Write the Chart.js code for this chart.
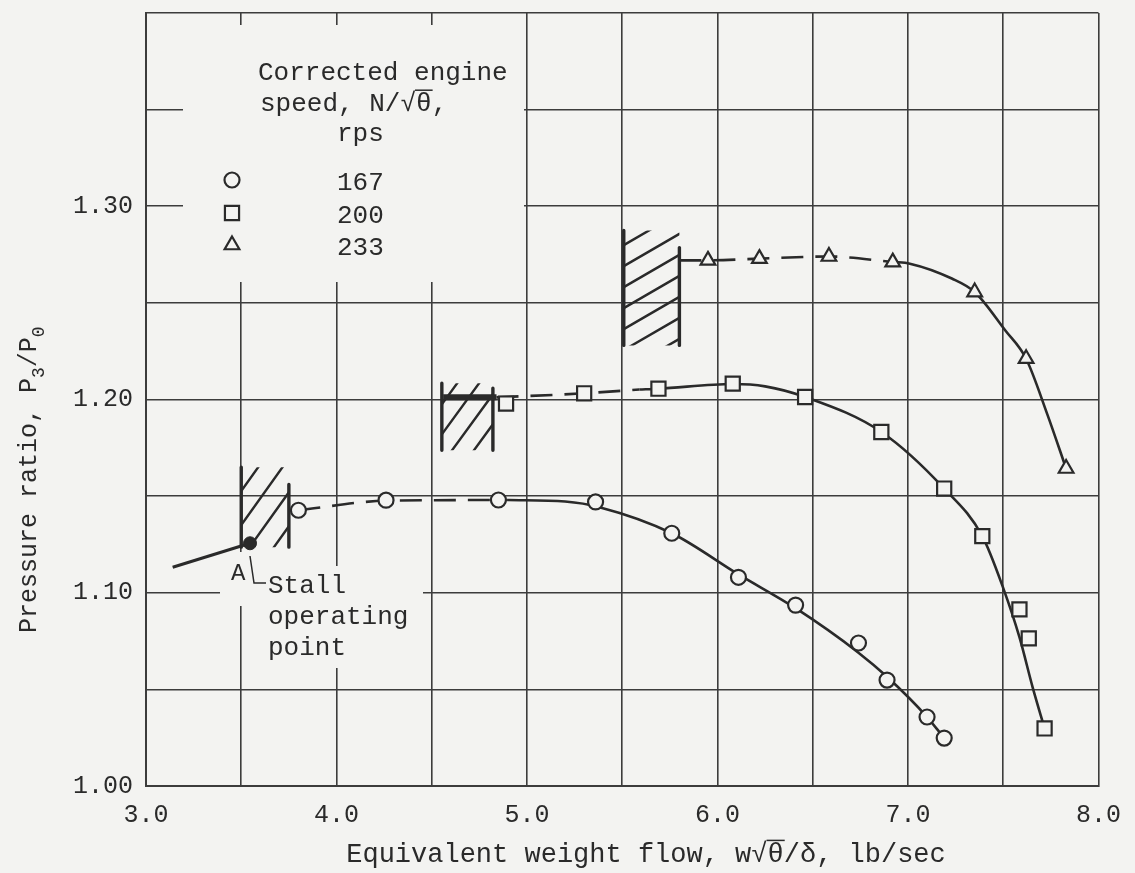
<!DOCTYPE html>
<html>
<head>
<meta charset="utf-8">
<script src="https://cdn.jsdelivr.net/npm/chart.js@4.4.0/dist/chart.umd.min.js"></script>
<style>
  html, body { margin: 0; padding: 0; background: #f3f3f1; }
  #wrap { width: 1135px; height: 873px; }
</style>
</head>
<body>
<div id="wrap"><canvas id="myChart" width="1135" height="873"></canvas></div>
<script>
// equivalent weight flow (lb/sec) and pressure ratio P3/P0
// 167 rps, circles
const flow167 = [3.80, 4.26, 4.85, 5.36, 5.76, 6.11, 6.41, 6.74, 6.89, 7.10, 7.19]
const ratio167 = [1.1427, 1.1479, 1.1480, 1.1470, 1.1308, 1.1080, 1.0936, 1.0740, 1.0548, 1.0357, 1.0248]
// 200 rps, squares
const flow200 = [4.89, 5.30, 5.69, 6.08, 6.46, 6.86, 7.19, 7.39, 7.585, 7.634, 7.717]
const ratio200 = [1.1979, 1.2032, 1.2056, 1.2082, 1.2013, 1.1832, 1.1539, 1.1293, 1.0914, 1.0764, 1.0298]
// 233 rps, triangles
const flow233 = [5.95, 6.22, 6.585, 6.92, 7.35, 7.62, 7.83]
const ratio233 = [1.2720, 1.2729, 1.2740, 1.2711, 1.2556, 1.2211, 1.1643]

// faired curves (dashed part, then solid part)
const dash167Flow = [3.80, 4.26, 4.90]
const dash167Ratio = [1.1427, 1.1476, 1.1480]
const fit167Flow = [4.90, 5.20, 5.38, 5.76, 6.11, 6.41, 6.74, 6.89, 7.10, 7.19]
const fit167Ratio = [1.1480, 1.1472, 1.1443, 1.1308, 1.1095, 1.0920, 1.0690, 1.0565, 1.0357, 1.0248]

const band200Flow = [4.56, 4.84]
const band200Ratio = [1.2011, 1.2011]
const dash200Flow = [4.84, 5.30, 5.59]
const dash200Ratio = [1.2011, 1.2032, 1.2052]
const fit200Flow = [5.59, 5.69, 6.08, 6.25, 6.46, 6.86, 7.19, 7.39, 7.50, 7.585, 7.654, 7.717]
const fit200Ratio = [1.2052, 1.2056, 1.2080, 1.2068, 1.2013, 1.1832, 1.1539, 1.1293, 1.1024, 1.0770, 1.0512, 1.0298]

const dash233Flow = [5.80, 5.95, 6.22, 6.585, 6.92]
const dash233Ratio = [1.2720, 1.2720, 1.2729, 1.2740, 1.2712]
const fit233Flow = [6.92, 7.01, 7.23, 7.35, 7.51, 7.62, 7.73, 7.83]
const fit233Ratio = [1.2712, 1.2703, 1.2626, 1.2556, 1.2358, 1.2211, 1.1927, 1.1643]

// stall operating point A and the line running into it
const stallFlow = [3.14, 3.546]
const stallRatio = [1.1132, 1.1256]

// hatched stall regions (167, 200, 233)
const hatchFlowLeft = [3.50, 4.553, 5.508]
const hatchFlowRight = [3.75, 4.821, 5.800]
const hatchRatioLow = [1.1236, 1.1737, 1.2280]
const hatchRatioTopLeft = [1.1650, 1.2084, 1.2875]
const hatchRatioTopRight = [1.1560, 1.2058, 1.2786]

// axes
const xTicks = [3.0, 3.5, 4.0, 4.5, 5.0, 5.5, 6.0, 6.5, 7.0, 7.5, 8.0]
const xLabels = ['3.0', '', '4.0', '', '5.0', '', '6.0', '', '7.0', '', '8.0']
const yTicks = [1.00, 1.05, 1.10, 1.15, 1.20, 1.25, 1.30, 1.35, 1.40]
const yLabels = ['1.00', '', '1.10', '', '1.20', '', '1.30', '', '']

const speeds = ['167', '200', '233']

const mono = "'Liberation Mono', 'DejaVu Sans Mono', monospace"
const ink = '#2a2a2a'
const gridInk = '#3c3c3c'
const paper = '#f3f3f1'

const markerStyles = [
    { pointStyle: 'circle', radius: 7.5 },
    { pointStyle: 'rect', radius: 10 },
    { pointStyle: 'triangle', radius: 8.5 }
]

function pts(xs, ys) {
    return xs.map((x, i) => ({ x: x, y: ys[i] }))
}

function markerSet(xs, ys, k) {
    return {
        data: pts(xs, ys),
        showLine: false,
        pointStyle: markerStyles[k].pointStyle,
        pointRadius: markerStyles[k].radius,
        pointBackgroundColor: paper,
        pointBorderColor: ink,
        pointBorderWidth: 2.2
    }
}

function lineSet(xs, ys, dash, width) {
    return {
        data: pts(xs, ys),
        showLine: true,
        borderColor: ink,
        borderWidth: width || 2.6,
        borderDash: dash || [],
        pointRadius: 0,
        cubicInterpolationMode: 'monotone',
        fill: false
    }
}

// text with subscripts and an overline (for the root of theta)
function rich(ctx, parts, x, y, size, dry) {
    let cx = x
    for (const [t, mode] of parts) {
        const s = mode === 'sub' ? size * 0.72 : size
        ctx.font = s + 'px ' + mono
        const w = ctx.measureText(t).width
        if (!dry) {
            ctx.fillText(t, cx, y + (mode === 'sub' ? size * 0.3 : 0))
            if (mode === 'bar') {
                ctx.beginPath()
                ctx.moveTo(cx - 1, y - size * 0.8)
                ctx.lineTo(cx + w + 1, y - size * 0.8)
                ctx.stroke()
            }
        }
        cx += w
    }
    return cx - x
}

function hatch(ctx, xl, xr, yt, yb, slope, gap) {
    ctx.save()
    ctx.beginPath()
    ctx.rect(xl, yt, xr - xl, yb - yt)
    ctx.clip()
    ctx.beginPath()
    for (let b = yt + gap * 0.7; b < yb + slope * (xr - xl); b += gap) {
        ctx.moveTo(xl, b)
        ctx.lineTo(xr, b - slope * (xr - xl))
    }
    ctx.stroke()
    ctx.restore()
}

const decor = {
    id: 'decor',
    beforeDraw(chart) {
        const ctx = chart.ctx
        ctx.save()
        ctx.fillStyle = paper
        ctx.fillRect(0, 0, chart.width, chart.height)
        ctx.restore()
    },
    beforeDatasetsDraw(chart) {
        const ctx = chart.ctx
        const sx = chart.scales.x, sy = chart.scales.y
        ctx.save()
        // the grid is left open behind the key and the stall note
        ctx.fillStyle = paper
        ctx.fillRect(183, 25, 341, 257)
        ctx.fillRect(220, 552, 42, 54)
        ctx.fillRect(262, 566, 161, 102)

        // hatched stall regions
        const slopes = [1.4, 1.37, 0.58]
        const gaps = [34, 30, 21]
        ctx.strokeStyle = ink
        ctx.lineCap = 'round'
        hatchFlowLeft.forEach((f, i) => {
            const xl = sx.getPixelForValue(f)
            const xr = sx.getPixelForValue(hatchFlowRight[i])
            const yb = sy.getPixelForValue(hatchRatioLow[i])
            const ytl = sy.getPixelForValue(hatchRatioTopLeft[i])
            const ytr = sy.getPixelForValue(hatchRatioTopRight[i])
            ctx.lineWidth = 2.4
            hatch(ctx, xl, xr, ytl, yb, slopes[i], gaps[i])
            ctx.lineWidth = 3.4
            ctx.beginPath()
            ctx.moveTo(xl, ytl)
            ctx.lineTo(xl, yb)
            ctx.moveTo(xr, ytr)
            ctx.lineTo(xr, yb)
            ctx.stroke()
        })
        ctx.restore()
    },
    afterDraw(chart) {
        const ctx = chart.ctx
        ctx.save()
        ctx.fillStyle = ink
        ctx.strokeStyle = ink
        ctx.lineWidth = 1.5
        ctx.textAlign = 'left'
        ctx.textBaseline = 'alphabetic'

        // key
        const ks = 26
        ctx.font = ks + 'px ' + mono
        ctx.fillText('Corrected engine', 258, 80)
        rich(ctx, [['speed, N/', ''], ['\u221A', ''], ['\u03B8', 'bar'], [',', '']], 260, 111, ks)
        ctx.font = ks + 'px ' + mono
        ctx.fillText('rps', 337, 141)
        const rowY = [180, 213, 245]
        speeds.forEach((s, k) => {
            ctx.font = ks + 'px ' + mono
            ctx.fillText(s, 337, rowY[k] + 10)
            ctx.fillStyle = paper
            ctx.lineWidth = 2.2
            Chart.helpers.drawPoint(ctx, {
                pointStyle: markerStyles[k].pointStyle,
                radius: markerStyles[k].radius,
                borderWidth: 2.2,
                rotation: 0
            }, 232, rowY[k])
            ctx.fillStyle = ink
        })

        // stall operating point note
        ctx.lineWidth = 1.5
        ctx.font = '24px ' + mono
        ctx.fillText('A', 231, 580)
        ctx.beginPath()
        ctx.moveTo(250, 556)
        ctx.lineTo(254, 583)
        ctx.lineTo(266, 583)
        ctx.stroke()
        ctx.font = ks + 'px ' + mono
        ctx.fillText('Stall', 268, 593)
        ctx.fillText('operating', 268, 624)
        ctx.fillText('point', 268, 655)

        // x axis title
        const xt = [['Equivalent weight flow, w', ''], ['\u221A', ''], ['\u03B8', 'bar'], ['/\u03B4, lb/sec', '']]
        const xs = 27
        const w = rich(ctx, xt, 0, 0, xs, true)
        rich(ctx, xt, 646 - w / 2, 862, xs)

        // y axis title
        ctx.translate(36, 633)
        ctx.rotate(-Math.PI / 2)
        rich(ctx, [['Pressure ratio, P', ''], ['3', 'sub'], ['/P', ''], ['0', 'sub']], 0, 0, 25)
        ctx.restore()
    }
}

const ctx = document.getElementById('myChart').getContext('2d')
const myChart = new Chart(ctx, {
    type: 'scatter',
    data: {
        datasets: [
            markerSet(flow167, ratio167, 0),
            markerSet(flow200, ratio200, 1),
            markerSet(flow233, ratio233, 2),
            {
                data: pts([stallFlow[1]], [stallRatio[1]]),
                showLine: false,
                pointRadius: 6.5,
                pointBackgroundColor: ink,
                pointBorderColor: ink
            },
            lineSet(stallFlow, stallRatio, [], 3),
            lineSet(dash167Flow, dash167Ratio, [22, 12]),
            lineSet(fit167Flow, fit167Ratio),
            lineSet(band200Flow, band200Ratio, [], 6),
            lineSet(dash200Flow, dash200Ratio, [22, 12]),
            lineSet(fit200Flow, fit200Ratio),
            lineSet(dash233Flow, dash233Ratio, [22, 12]),
            lineSet(fit233Flow, fit233Ratio)
        ]
    },
    options: {
        responsive: false,
        animation: false,
        events: [],
        layout: { padding: { top: 13, right: 36, left: 0, bottom: 0 } },
        plugins: {
            legend: { display: false },
            tooltip: { enabled: false }
        },
        scales: {
            x: {
                type: 'linear',
                min: 3.0,
                max: 8.0,
                afterBuildTicks: s => { s.ticks = xTicks.map(v => ({ value: v })) },
                afterFit: s => { s.height = 87 },
                grid: { color: gridInk, lineWidth: 1.6, drawTicks: false },
                border: { color: gridInk, width: 2 },
                ticks: {
                    padding: 14,
                    color: ink,
                    autoSkip: false,
                    maxRotation: 0,
                    font: { family: mono, size: 25 },
                    callback: (v, i) => xLabels[i]
                }
            },
            y: {
                type: 'linear',
                min: 1.0,
                max: 1.4,
                afterBuildTicks: s => { s.ticks = yTicks.map(v => ({ value: v })) },
                afterFit: s => {
                    s.width = 146
                    s.paddingTop = 0
                    s.paddingBottom = 0
                },
                grid: { color: gridInk, lineWidth: 1.6, drawTicks: false },
                border: { color: gridInk, width: 2 },
                ticks: {
                    padding: 13,
                    color: ink,
                    autoSkip: false,
                    font: { family: mono, size: 25 },
                    callback: (v, i) => yLabels[i]
                }
            }
        }
    },
    plugins: [decor]
})
</script>
</body>
</html>
